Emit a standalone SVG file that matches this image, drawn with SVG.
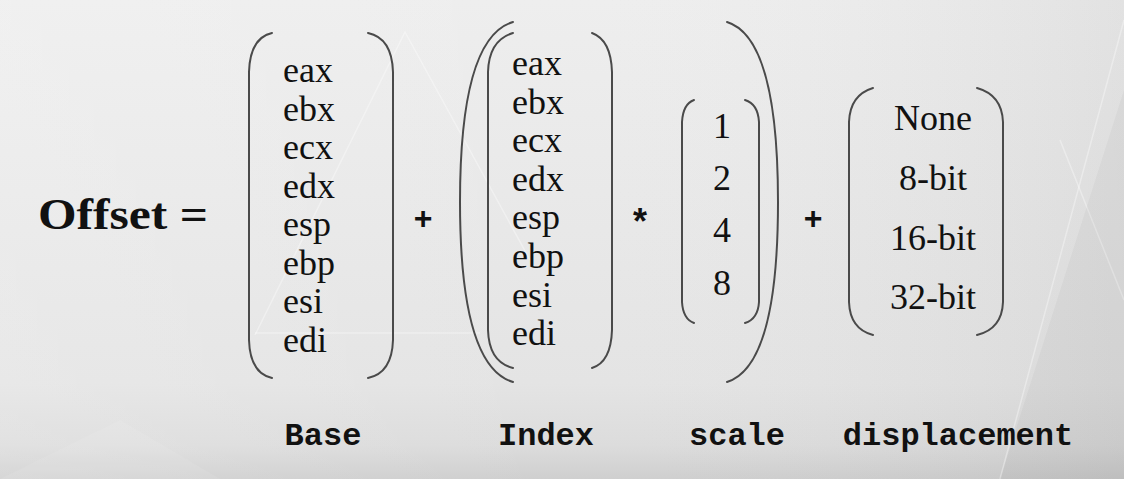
<svg xmlns="http://www.w3.org/2000/svg" width="1124" height="479" viewBox="0 0 1124 479">
  <defs>
    <linearGradient id="bg" x1="0" y1="0" x2="0" y2="1">
      <stop offset="0" stop-color="#eeeeee"/>
      <stop offset="0.8" stop-color="#e4e4e4"/>
      <stop offset="0.93" stop-color="#dcdcdc"/>
      <stop offset="1" stop-color="#cfcfcf"/>
    </linearGradient>
    <linearGradient id="side" x1="0" y1="0" x2="1" y2="0">
      <stop offset="0" stop-color="#ffffff" stop-opacity="0.15"/>
      <stop offset="0.5" stop-color="#ffffff" stop-opacity="0"/>
      <stop offset="1" stop-color="#000000" stop-opacity="0.05"/>
    </linearGradient>
    <style>
      .br { fill: none; stroke: #4a4a4a; stroke-width: 2; stroke-linecap: round; }
      .reg { font-family: "Liberation Serif", "Times New Roman", serif; font-size: 36px; fill: #111; }
      .lbl { font-family: "Liberation Mono", "Courier New", monospace; font-size: 32px; font-weight: bold; fill: #111; }
      .op { font-family: "Liberation Sans", Arial, sans-serif; font-weight: bold; fill: #111; text-anchor: middle; }
      .mid { text-anchor: middle; }
    </style>
  </defs>

  <rect x="0" y="0" width="1124" height="479" fill="url(#bg)"/>
  <rect x="0" y="0" width="1124" height="479" fill="url(#side)"/>
  <g id="background-shapes" fill="none" stroke="#ffffff" stroke-opacity="0.35" stroke-width="1.5">
    <polyline points="255,335 405,32 530,260"/>
    <polyline points="255,333 480,333"/>
    <polyline points="1000,479 1124,20"/>
    <polyline points="1060,140 1124,300"/>
  </g>
  <polygon points="1124,90 1000,479 1124,479" fill="#000" fill-opacity="0.03"/>
  <polygon points="0,479 120,420 220,479" fill="#fff" fill-opacity="0.08"/>

  <g id="offset-label">
    <text x="38" y="229" font-family="Liberation Serif, Times New Roman, serif" font-weight="bold" font-size="44" fill="#111" textLength="170" lengthAdjust="spacingAndGlyphs">Offset =</text>
  </g>

  <g id="base">
    <path class="br" d="M 272 33 Q 250 38 249 72 L 249 340 Q 250 373 272 378"/>
    <path class="br" d="M 368 33 Q 392 38 393 72 L 393 340 Q 392 373 368 378"/>
    <text class="reg" x="283" y="82">eax</text>
    <text class="reg" x="283" y="120.5">ebx</text>
    <text class="reg" x="283" y="159">ecx</text>
    <text class="reg" x="283" y="197.5">edx</text>
    <text class="reg" x="283" y="236">esp</text>
    <text class="reg" x="283" y="274.5">ebp</text>
    <text class="reg" x="283" y="313">esi</text>
    <text class="reg" x="283" y="351.5">edi</text>
    <text class="lbl mid" x="323" y="445">Base</text>
  </g>

  <g id="index-times-scale">
    <path class="br" d="M 513 22 C 472 34 460 110 460 202 C 460 294 472 370 513 382"/>
    <path class="br" d="M 727 22 C 766 34 778 110 778 202 C 778 294 766 370 727 382"/>
  </g>

  <g id="index">
    <path class="br" d="M 513 33 Q 489 40 488 72 L 488 330 Q 489 362 513 368"/>
    <path class="br" d="M 592 33 Q 611 40 612 72 L 612 330 Q 611 362 592 368"/>
    <text class="reg" x="512" y="75">eax</text>
    <text class="reg" x="512" y="113.6">ebx</text>
    <text class="reg" x="512" y="152.2">ecx</text>
    <text class="reg" x="512" y="190.8">edx</text>
    <text class="reg" x="512" y="229.4">esp</text>
    <text class="reg" x="512" y="268">ebp</text>
    <text class="reg" x="512" y="306.6">esi</text>
    <text class="reg" x="512" y="345.2">edi</text>
    <text class="lbl mid" x="546" y="445">Index</text>
  </g>

  <g id="scale">
    <path class="br" d="M 694 100 Q 683 104 682 122 L 682 302 Q 683 319 694 323"/>
    <path class="br" d="M 745 100 Q 758 104 759 122 L 759 302 Q 758 319 745 323"/>
    <text class="reg mid" x="722" y="138">1</text>
    <text class="reg mid" x="722" y="190">2</text>
    <text class="reg mid" x="722" y="242">4</text>
    <text class="reg mid" x="722" y="295">8</text>
    <text class="lbl mid" x="737" y="445">scale</text>
  </g>

  <g id="displacement">
    <path class="br" d="M 873 88 Q 850 95 849 122 L 849 302 Q 850 329 873 335"/>
    <path class="br" d="M 977 88 Q 1002 95 1003 122 L 1003 302 Q 1002 329 977 335"/>
    <text class="reg mid" x="933" y="130">None</text>
    <text class="reg mid" x="933" y="190">8-bit</text>
    <text class="reg mid" x="933" y="250">16-bit</text>
    <text class="reg mid" x="933" y="309">32-bit</text>
    <text class="lbl mid" x="958" y="445">displacement</text>
  </g>

  <g id="connectors">
    <text class="op" x="423" y="229" font-size="32">+</text>
    <text class="op" x="640" y="234" font-size="36">*</text>
    <text class="op" x="813" y="229" font-size="32">+</text>
  </g>
</svg>
